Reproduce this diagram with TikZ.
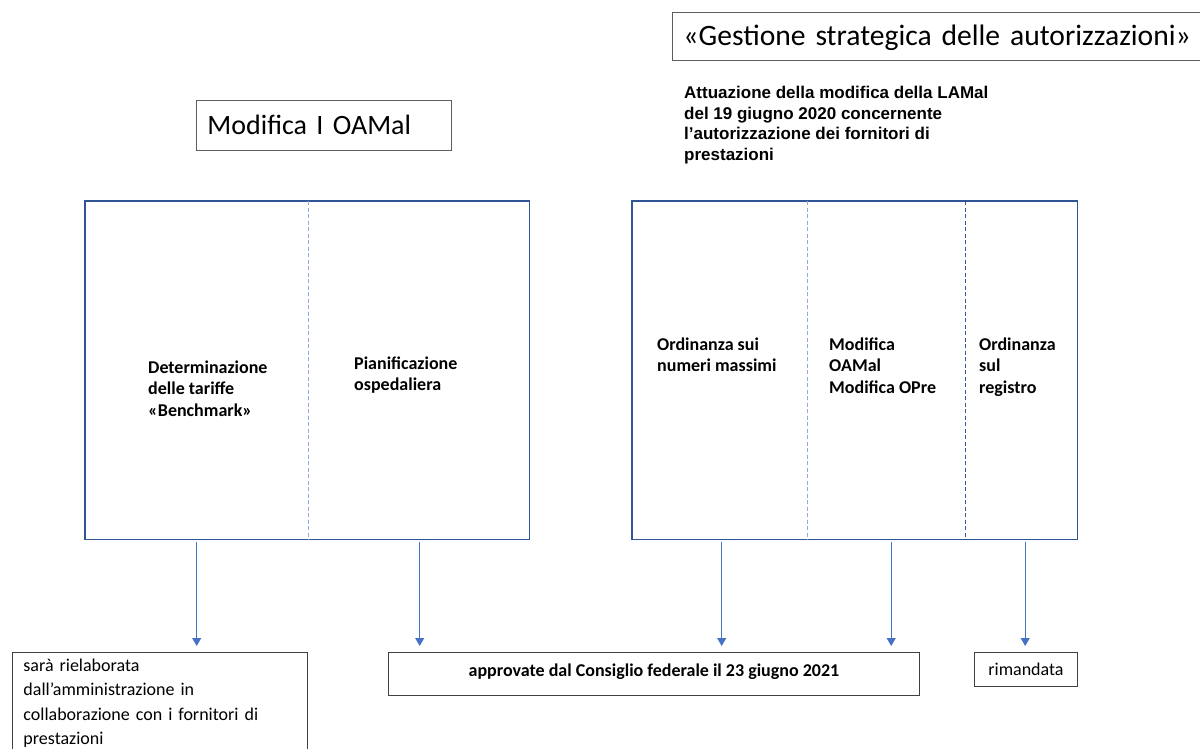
\documentclass[tikz,border=0pt]{standalone}
\usepackage{fontspec}
\setmainfont{Carlito}
\newfontfamily\arialfont{Liberation Sans}
\usepackage{xcolor}
\usepackage{tikz}
\usetikzlibrary{fit, positioning, arrows.meta, calc}
\definecolor{frameblue}{HTML}{2F5597}
\definecolor{arrowblue}{HTML}{4472C4}
\definecolor{splitblue}{HTML}{8FAADC}
\definecolor{notegray}{HTML}{404040}

\begin{document}
\begin{tikzpicture}[
    x=1pt, y=-1pt,
    cell/.style={minimum width=#1, minimum height=338pt, inner sep=0pt, anchor=north west},
    frame/.style={draw=frameblue, line width=1.6pt, inner sep=0pt},
    split/.style={draw=splitblue, line width=0.9pt, dash pattern=on 4pt off 2.5pt},
    heading/.style={draw=notegray!85, line width=0.9pt, inner xsep=11pt, inner ysep=0pt,
                    anchor=north west, text width=#1, align=left},
    item/.style={anchor=base west, align=left, inner sep=0pt,
                 font=\fontsize{18}{21.5}\selectfont\bfseries},
    note/.style={draw=notegray, line width=0.9pt, anchor=north west},
    flow/.style={-{Triangle[width=9pt, length=8pt]}, draw=arrowblue, line width=0.9pt,
                 shorten <=3pt, shorten >=6pt},
  ]
  \useasboundingbox[fill=white] (0,0) rectangle (1200,749);

  % headings
  \node[heading=233pt, minimum height=50pt, text height=22pt, text depth=4pt,
        font=\fontsize{28}{34}\selectfont] (oamal) at (196,100) {Modifica I OAMal};
  \node[heading=540pt, minimum height=48pt, text height=23pt, text depth=4pt,
        font=\fontsize{29.6}{36}\selectfont] (strategy) at (672,12) {«Gestione strategica delle autorizzazioni»};
  \node[anchor=base west, align=left, inner sep=0pt,
        font=\arialfont\bfseries\fontsize{17}{20.5}\selectfont] (lamal) at (684,160.5)
       {Attuazione della modifica della LAMal\\del 19 giugno 2020 concernente\\l’autorizzazione dei fornitori di\\prestazioni};

  % cells of the two frames
  \node[cell=223pt] (tariff) at (85,201) {};
  \node[cell=221pt] (hospital) at (308,201) {};
  \node[cell=175pt] (maxnum) at (632,201) {};
  \node[cell=158pt] (opre) at (807,201) {};
  \node[cell=112pt] (register) at (965,201) {};
  \node[frame, fit=(tariff)(hospital)] (oamalbox) {};
  \node[frame, fit=(maxnum)(opre)(register)] (lamalbox) {};
  \draw[split] (tariff.north east) -- (tariff.south east);
  \draw[split] (maxnum.north east) -- (maxnum.south east);
  \draw[split, draw=arrowblue!80!black] (opre.north east) -- (opre.south east);

  \node[item] (tarifftxt) at (148,416) {Determinazione\\delle tariffe\\«Benchmark»};
  \node[item] (hospitaltxt) at (354,390.5) {Pianificazione\\ospedaliera};
  \node[item] (maxnumtxt) at (657,371.5) {Ordinanza sui\\numeri massimi};
  \node[item] (opretxt) at (829,393) {Modifica\\OAMal\\Modifica OPre};
  \node[item] (registertxt) at (979,393) {Ordinanza\\sul\\registro};

  % outcomes
  \node[note, minimum width=295pt, inner xsep=11pt, inner ysep=3pt, text width=273pt,
        align=left, text height=16pt, text depth=96pt, font=\fontsize{18}{24.5}\selectfont] (rework) at (12,652)
       {sarà rielaborata\\dall’amministrazione in\\collaborazione con i fornitori di\\prestazioni};
  \node[note, minimum width=531pt, minimum height=43pt, text height=11pt, text depth=6pt,
        font=\fontsize{18}{21.5}\selectfont\bfseries] (approved) at (388,652)
       {approvate dal Consiglio federale il 23 giugno 2021};
  \node[note, minimum width=103pt, minimum height=34pt, text height=14pt, text depth=2pt,
        font=\fontsize{18}{21.5}\selectfont] (postponed) at (974,652) {rimandata};

  \draw[flow] (tariff.south) -- (tariff.south |- rework.north);
  \draw[flow] ([xshift=1pt]hospital.south) -- ([xshift=1pt]hospital.south |- approved.north);
  \draw[flow] ([xshift=2pt]maxnum.south) -- ([xshift=2pt]maxnum.south |- approved.north);
  \draw[flow] ([xshift=5pt]opre.south) -- ([xshift=5pt]opre.south |- approved.north);
  \draw[flow] ([xshift=4pt]register.south) -- ([xshift=4pt]register.south |- postponed.north);
\end{tikzpicture}
\end{document}
